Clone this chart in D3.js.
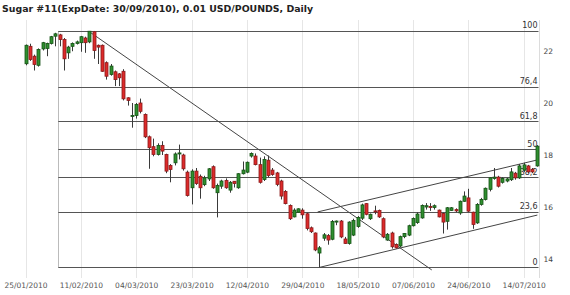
<!DOCTYPE html>
<html>
<head>
<meta charset="utf-8">
<script src="https://cdn.jsdelivr.net/npm/d3@7"></script>
<style>
  body { margin: 0; background: #fff; }
  text { font-family: "DejaVu Sans", Verdana, sans-serif; }
</style>
</head>
<body>
<div id="chart"></div>
<script>
// daily candles, 0.01 USD/lb
var opens = [21.51,22.18,21.80,21.45,22.08,22.10,22.29,22.57,22.62,22.44, 21.93,22.18,22.29,22.32,22.50,22.35,22.74,22.22,22.22,21.55,
  21.10,21.20,21.12,21.22,20.20,19.50,19.52,20.00,19.56,18.70, 18.32,18.02,18.37,18.02,17.60,17.70,18.04,18.00,17.34,16.74,
  17.38,17.18,16.86,17.08,17.55,16.55,16.80,17.02,16.65,16.99, 16.74,17.28,17.34,17.96,17.96,17.63,17.06,17.80,17.42,17.31,
  17.00,16.60,16.06,15.62,15.80,15.88,15.74,15.20,15.00,14.23, 14.80,14.90,14.76,15.42,15.46,14.77,14.60,14.92,15.25,15.57,
  16.13,15.55,15.85,15.87,15.55,14.73,15.00,14.56,14.50,14.86, 14.92,15.28,15.40,15.58,16.00,16.02,15.98,15.88,15.75,15.45,
  15.87,15.90,15.77,16.22,16.35,15.80,15.39,16.10,16.29,16.68, 17.10,17.15,16.95,17.00,17.05,17.30,17.12,17.42,17.58,17.45,
  17.58];
var highs = [22.25,22.28,21.86,22.10,22.35,22.32,22.58,22.70,22.66,22.50, 22.20,22.33,22.40,22.58,22.55,22.77,22.77,22.25,22.25,21.60,
  21.50,21.25,21.15,21.30,20.22,20.00,20.00,20.17,19.60,18.75, 18.63,18.45,18.53,18.05,17.65,18.10,18.40,18.05,17.40,17.45,
  17.50,17.25,17.20,17.50,17.60,16.90,17.05,17.10,17.00,17.00, 17.30,17.75,17.75,18.10,18.06,17.90,17.95,17.98,17.50,17.35,
  17.05,16.65,16.10,15.95,15.95,15.95,15.78,15.25,15.02,14.50, 15.00,14.96,15.50,15.48,15.50,14.85,15.45,15.55,15.65,16.13,
  16.15,15.75,16.05,15.90,15.60,15.00,15.05,14.60,14.90,15.00, 15.32,15.60,15.80,16.10,16.15,16.15,16.10,15.90,15.78,16.00,
  16.00,15.95,16.25,16.60,16.70,15.82,16.15,16.35,16.75,17.15, 17.50,17.20,17.15,17.12,17.50,17.35,17.65,17.70,17.62,17.50,
  18.38];
var lows = [21.45,21.62,21.25,21.40,22.02,21.80,22.25,22.18,22.18,21.25, 21.70,21.99,22.25,21.97,21.93,22.30,21.70,21.50,21.20,20.90,
  21.05,20.65,20.65,20.10,19.90,19.05,19.40,19.60,18.65,17.47, 17.95,17.98,18.00,17.30,16.95,17.60,17.83,17.40,16.40,16.10,
  16.85,16.32,16.80,17.00,16.70,15.60,16.70,16.70,16.55,16.75, 16.70,17.25,17.30,17.90,17.60,16.90,17.00,17.15,17.20,16.80,
  16.29,16.10,15.50,15.60,15.78,15.55,15.10,15.00,14.30,13.68, 14.70,14.55,14.72,15.30,14.80,14.58,14.55,14.88,15.20,15.50,
  15.68,15.50,15.72,15.58,14.80,14.70,14.40,14.40,14.45,14.80, 14.88,15.25,15.35,15.55,15.90,15.85,15.90,15.60,14.98,15.13,
  15.85,15.80,15.70,16.20,15.80,15.16,15.35,16.05,16.25,16.60, 17.05,16.75,16.90,16.95,17.00,17.05,17.08,17.35,17.30,17.30,
  17.55];
var closes = [22.22,21.67,21.48,22.06,22.32,22.29,22.55,22.66,22.44,21.70, 22.15,22.29,22.35,22.55,22.32,22.76,22.02,22.15,21.22,21.03,
  21.42,20.90,20.97,20.16,20.10,19.52,19.94,19.68,18.70,18.28, 18.02,18.37,18.15,17.38,17.44,18.04,18.08,17.47,16.44,17.38,
  16.90,16.74,17.12,17.47,16.74,16.83,17.00,16.74,16.95,16.90, 17.28,17.42,17.72,18.06,17.63,16.95,17.83,17.21,17.25,16.87,
  16.42,16.13,15.55,15.88,15.93,15.70,15.17,15.05,14.35,14.43, 14.93,14.73,15.44,15.46,14.85,14.60,15.42,15.48,15.60,16.08,
  15.72,15.72,15.83,15.62,14.85,14.95,14.47,14.43,14.86,14.98, 15.28,15.56,15.73,16.06,16.05,15.98,16.05,15.62,15.42,15.97,
  15.97,15.85,16.22,16.42,15.84,15.33,16.10,16.29,16.72,17.12, 17.15,16.80,17.10,17.08,17.35,17.12,17.58,17.62,17.35,17.35,
  18.34];

var tickIdx = [0, 13, 26, 39, 52, 65, 78, 91, 104, 117];
var tickLabels = ["25/01/2010","11/02/2010","04/03/2010","23/03/2010","12/04/2010",
                  "29/04/2010","18/05/2010","07/06/2010","24/06/2010","14/07/2010"];
var priceTicks = [14, 16, 18, 20, 22];

// fibonacci retracement (high of 11/02 to low of 04/05)
var fibLevels = [0, 23.6, 38.2, 50, 61.8, 76.4, 100];
var fibLabels = ["0", "23,6", "38,2", "50", "61,8", "76,4", "100"];
var fibLow = 13.68, fibHigh = 22.77, fibStart = 7.7;

// drawn lines: [index1, price1, index2, price2]
var trendLine = [15.1, 22.73, 95.4, 13.58];
var channelLow = [69.1, 13.68, 120.2, 15.69];
var channelHigh = [68.6, 15.81, 120.2, 17.81];

var width = 570, height = 295;
var plotTop = 20, plotBottom = 278, plotRight = 539.5;

var svg = d3.select("#chart").append("svg")
    .attr("width", width)
    .attr("height", height);

svg.append("text")
    .attr("x", 2).attr("y", 11.5)
    .style("font-size", "9.4px").style("font-weight", "bold").style("fill", "#222")
    .text("Sugar #11(ExpDate: 30/09/2010), 0.01 USD/POUNDS, Daily");

var x = d3.scaleLinear().domain([0, 120]).range([25.5, 536.5]);
var y = d3.scaleLinear().domain([14, 22]).range([259, 51]);

// vertical grid
svg.selectAll("line.grid")
    .data(tickIdx)
    .enter().append("line")
    .attr("class", "grid")
    .attr("x1", function(d) { return Math.round(x(d)) + 0.5; })
    .attr("x2", function(d) { return Math.round(x(d)) + 0.5; })
    .attr("y1", plotTop).attr("y2", plotBottom)
    .style("stroke", "#e6e6e6");

svg.append("line")
    .attr("x1", plotRight).attr("x2", plotRight)
    .attr("y1", plotTop).attr("y2", plotBottom)
    .style("stroke", "#dcdcdc");

// axes
var xAxis = d3.axisBottom(x).tickValues(tickIdx)
    .tickFormat(function(d, i) { return tickLabels[i]; })
    .tickSize(0).tickPadding(5);
var gx = svg.append("g").attr("transform", "translate(0," + plotBottom + ")").call(xAxis);
gx.select(".domain").remove();
gx.selectAll("text").style("font-size", "7.5px").style("fill", "#555")
    .style("font-family", "'DejaVu Sans', Verdana, sans-serif");

var yAxis = d3.axisRight(y).tickValues(priceTicks).tickSize(0).tickPadding(4);
var gy = svg.append("g").attr("transform", "translate(" + plotRight + ",0)").call(yAxis);
gy.select(".domain").remove();
gy.selectAll("text").style("font-size", "7.5px").style("fill", "#444")
    .style("font-family", "'DejaVu Sans', Verdana, sans-serif");

// fibonacci
function fibPrice(p) { return fibLow + (fibHigh - fibLow) * p / 100; }

svg.append("line")
    .attr("x1", Math.round(x(fibStart)) + 0.5).attr("x2", Math.round(x(fibStart)) + 0.5)
    .attr("y1", y(fibHigh)).attr("y2", y(fibLow))
    .style("stroke", "#bbb");

svg.selectAll("line.fib")
    .data(fibLevels)
    .enter().append("line")
    .attr("class", "fib")
    .attr("x1", x(fibStart)).attr("x2", plotRight - 1)
    .attr("y1", function(d) { return Math.round(y(fibPrice(d))) + 0.5; })
    .attr("y2", function(d) { return Math.round(y(fibPrice(d))) + 0.5; })
    .style("stroke", "#555");

svg.selectAll("text.fib")
    .data(fibLevels)
    .enter().append("text")
    .attr("class", "fib")
    .attr("x", plotRight - 2)
    .attr("y", function(d) { return y(fibPrice(d)) - 2.5; })
    .attr("text-anchor", "end")
    .style("font-size", "8px").style("fill", "#333")
    .text(function(d, i) { return fibLabels[i]; });

// trend lines
svg.selectAll("line.trend")
    .data([trendLine, channelLow, channelHigh])
    .enter().append("line")
    .attr("class", "trend")
    .attr("x1", function(d) { return x(d[0]); })
    .attr("y1", function(d) { return y(d[1]); })
    .attr("x2", function(d) { return x(d[2]); })
    .attr("y2", function(d) { return y(d[3]); })
    .style("stroke", "#444");

// candles
var idx = d3.range(opens.length);
var candle = svg.selectAll("g.candle")
    .data(idx)
    .enter().append("g")
    .attr("class", "candle");

candle.append("line")
    .attr("x1", function(i) { return Math.round(x(i)) + 0.5; })
    .attr("x2", function(i) { return Math.round(x(i)) + 0.5; })
    .attr("y1", function(i) { return y(highs[i]); })
    .attr("y2", function(i) { return y(lows[i]); })
    .style("stroke", "#3a3a3a");

candle.append("rect")
    .attr("x", function(i) { return Math.round(x(i)) - 1; })
    .attr("width", 3)
    .attr("y", function(i) { return y(Math.max(opens[i], closes[i])); })
    .attr("height", function(i) { return Math.max(1, Math.abs(y(opens[i]) - y(closes[i]))); })
    .style("fill", function(i) { return closes[i] >= opens[i] ? "#2f8f2f" : "#dd2a2a"; })
    .style("stroke", function(i) { return closes[i] >= opens[i] ? "#145214" : "#8a1a1a"; })
    .style("stroke-width", 0.8);
</script>
</body>
</html>
